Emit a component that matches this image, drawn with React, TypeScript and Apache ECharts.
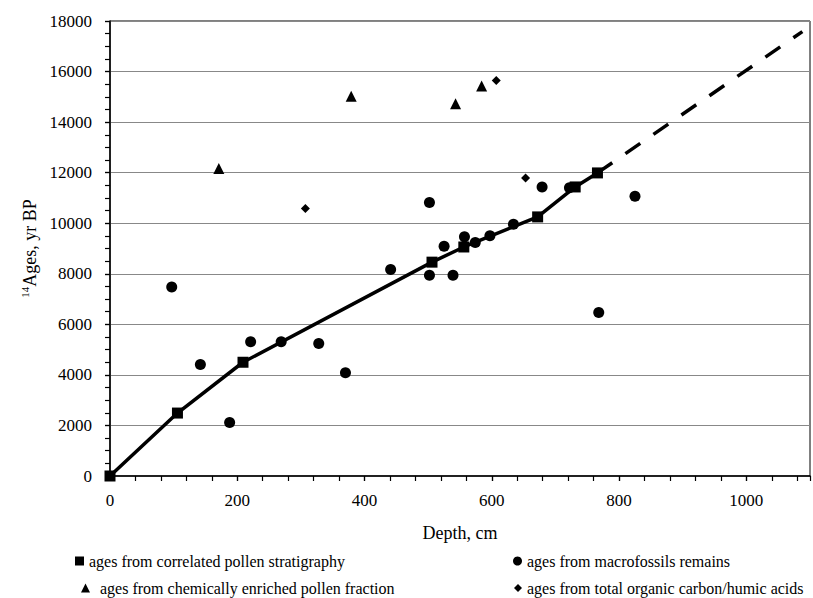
import React, { useEffect, useRef } from "react";
import * as echarts from "echarts";

const squareDepth = [0, 106, 209, 506, 556, 672, 731, 766];
const squareAge = [0, 2490, 4500, 8460, 9060, 10250, 11435, 11990];

const dashDepth = [766, 1088];
const dashAge = [11990, 17580];

const circleDepth = [97, 142, 188, 221, 269, 328, 370, 441, 502, 502, 525, 539, 557, 574, 597, 634, 679, 722, 768, 825];
const circleAge = [7480, 4415, 2120, 5310, 5310, 5245, 4085, 8170, 10820, 7945, 9090, 7945, 9460, 9240, 9500, 9960, 11435, 11400, 6470, 11070];

const triangleDepth = [171, 379, 543, 584];
const triangleAge = [12160, 15020, 14730, 15430];

const diamondDepth = [307, 607, 653];
const diamondAge = [10580, 15650, 11790];

const xLabels = [0, 200, 400, 600, 800, 1000];

const S1 = "ages from correlated pollen stratigraphy";
const S2 = "ages from macrofossils remains";
const S3 = "ages from chemically enriched pollen fraction";
const S4 = "ages from total organic carbon/humic acids";

const FONT = "Liberation Serif";

const zip = (a: number[], b: number[]) => a.map((v, i) => [v, b[i]]);

export default function App() {
  const ref = useRef<HTMLDivElement>(null);
  useEffect(() => {
    document.body.style.margin = "0";
    if (!ref.current) return;
    const chart = echarts.init(ref.current, null, { renderer: "svg" });
    const legendBase = {
      orient: "horizontal",
      padding: 0,
      itemWidth: 9,
      itemHeight: 9,
      selectedMode: false,
      textStyle: { fontFamily: FONT, fontSize: 16, color: "#000" },
    };
    const solid = { color: "#000", opacity: 1 };
    const tick = { show: true, inside: false, length: 5, lineStyle: { color: "#000", width: 1.2, opacity: 1 } };
    chart.setOption({
      animation: false,
      backgroundColor: "#fff",
      textStyle: { fontFamily: FONT },
      grid: {
        left: 110,
        right: 3,
        top: 21,
        bottom: 122,
        show: true,
        borderColor: "#000",
        borderWidth: 1,
        backgroundColor: "transparent",
      },
      xAxis: [
        {
          type: "value",
          min: 0,
          max: 1100,
          interval: 200,
          name: "Depth, cm",
          nameLocation: "middle",
          nameGap: 48,
          nameTextStyle: { fontFamily: FONT, fontSize: 18, color: "#000" },
          axisLine: { show: true, onZero: false, lineStyle: { color: "#000", width: 1.5 } },
          axisTick: tick,
          axisLabel: {
            show: true,
            fontFamily: FONT,
            fontSize: 17,
            color: "#000",
            margin: 16,
            showMaxLabel: false,
            formatter: (v: number) => (xLabels.includes(v) ? String(v) : ""),
          },
          splitLine: { show: false },
        },
        {
          type: "value",
          min: 0,
          max: 1100,
          interval: 40,
          position: "bottom",
          axisLine: { show: false, onZero: false },
          axisTick: tick,
          axisLabel: { show: false },
          splitLine: { show: false },
        },
      ],
      yAxis: [
        {
          type: "value",
          min: 0,
          max: 18000,
          interval: 2000,
          position: "left",
          name: "{sup|14}{main|Ages, yr BP}",
          nameLocation: "middle",
          nameGap: 70,
          nameTextStyle: {
            fontFamily: FONT,
            color: "#000",
            rich: {
              sup: { fontFamily: FONT, fontSize: 11, color: "#000", verticalAlign: "top", lineHeight: 20 },
              main: { fontFamily: FONT, fontSize: 18, color: "#000", lineHeight: 20 },
            },
          },
          axisLine: { show: true, onZero: false, lineStyle: { color: "#000", width: 1.5 } },
          axisTick: tick,
          axisLabel: {
            fontFamily: FONT,
            fontSize: 17,
            color: "#000",
            margin: 18,
            formatter: (v: number) => String(v),
          },
          splitLine: { show: true, lineStyle: { color: "#888", width: 1 } },
        },
        {
          type: "value",
          min: 0,
          max: 18000,
          interval: 500,
          position: "left",
          offset: 0,
          axisLine: { show: false, onZero: false },
          axisTick: tick,
          axisLabel: { show: false },
          splitLine: { show: false },
        },
      ],
      legend: [
        { ...legendBase, data: [{ name: S1, icon: "rect" }], left: 75, top: 553 },
        { ...legendBase, data: [{ name: S2, icon: "circle" }], left: 513, top: 553 },
        {
          ...legendBase,
          data: [{ name: S3, icon: "triangle" }],
          left: 81,
          top: 580,
          textStyle: { ...legendBase.textStyle, padding: [0, 0, 0, 5] },
        },
        { ...legendBase, data: [{ name: S4, icon: "diamond" }], left: 514, top: 580, itemWidth: 8, itemHeight: 8 },
      ],
      series: [
        {
          name: "dashed",
          type: "line",
          data: zip(dashDepth, dashAge),
          showSymbol: false,
          symbol: "none",
          lineStyle: { color: "#000", width: 3.5, type: [18, 16], opacity: 1 },
          z: 1,
          clip: false,
        },
        {
          name: S1,
          type: "line",
          data: zip(squareDepth, squareAge),
          symbol: "rect",
          symbolSize: 11,
          showAllSymbol: true,
          itemStyle: solid,
          lineStyle: { color: "#000", width: 3.5, opacity: 1 },
          z: 2,
          clip: false,
        },
        {
          name: S2,
          type: "scatter",
          data: zip(circleDepth, circleAge),
          symbol: "circle",
          symbolSize: 11,
          itemStyle: solid,
          z: 3,
          clip: false,
        },
        {
          name: S3,
          type: "scatter",
          data: zip(triangleDepth, triangleAge),
          symbol: "triangle",
          symbolSize: 11,
          itemStyle: solid,
          z: 3,
        },
        {
          name: S4,
          type: "scatter",
          data: zip(diamondDepth, diamondAge),
          symbol: "diamond",
          symbolSize: 9,
          itemStyle: solid,
          z: 3,
        },
      ],
    });
    return () => chart.dispose();
  }, []);
  return <div ref={ref} style={{ width: 813, height: 598 }} />;
}
